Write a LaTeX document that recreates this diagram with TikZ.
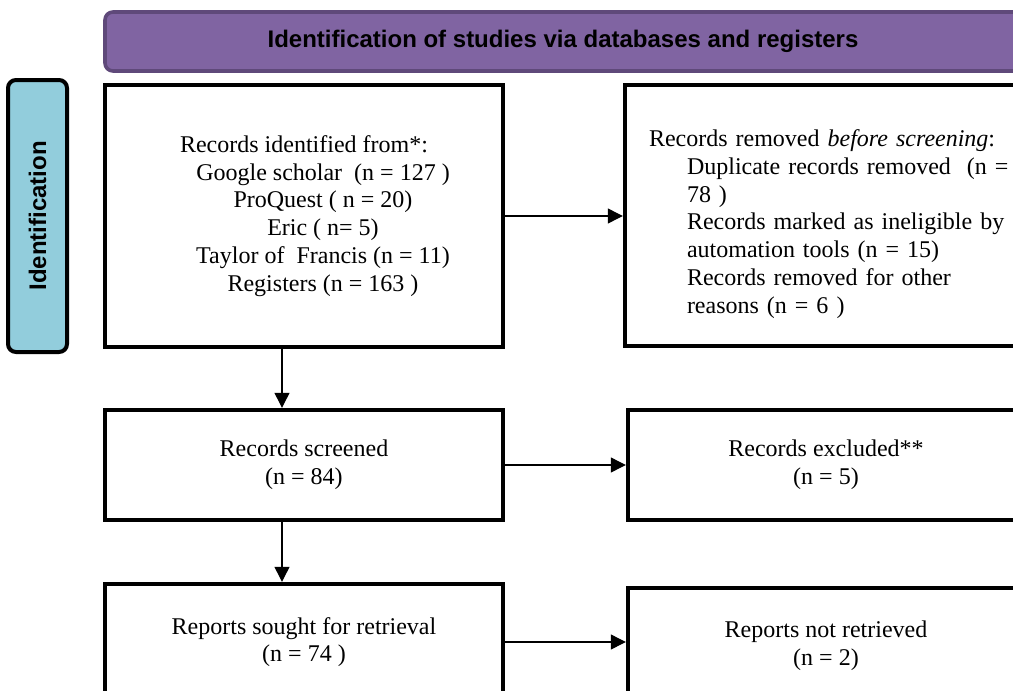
\documentclass[tikz,border=0pt]{standalone}
\usepackage{fontspec}
\setmainfont{Liberation Serif}
\newfontfamily\headfont{Liberation Sans}
\usetikzlibrary{arrows.meta}
\definecolor{headpurple}{HTML}{8064A2}
\definecolor{headedge}{HTML}{5F497A}
\definecolor{sideblue}{HTML}{92CDDC}
\begin{document}
\begin{tikzpicture}[x=0.5pt,y=-0.5pt,
    box/.style={draw,line width=2.2pt,align=center,font=\fontsize{12}{13.9}\selectfont},
    band/.style={line width=1.8pt,rounded corners=4pt,font=\headfont\bfseries\fontsize{12}{14}\selectfont},
    link/.style={line width=0.6pt,-{Triangle[length=7.5pt,width=7.5pt]}}]
    \useasboundingbox (0,0) rectangle (1013,691);
    \node[band,draw=headedge,fill=headpurple,minimum width=458pt,minimum height=29.5pt] (head) at (563,41.5) {Identification of studies via databases and registers};
    \node[band,draw=black,line width=2pt,fill=sideblue,rotate=90,minimum width=136pt,minimum height=29.5pt] (side) at (37.5,216) {Identification};
    \node[box,minimum width=199pt,minimum height=131pt] (ident) at (304,216) {Records identified from*:\\
        \hspace*{19pt}Google scholar\ \ (n = 127 )\\
        \hspace*{19pt}ProQuest ( n = 20)\\
        \hspace*{19pt}Eric ( n= 5)\\
        \hspace*{19pt}Taylor of\ \ Francis (n = 11)\\
        \hspace*{19pt}Registers (n = 163 )};
    \node[box,align=left,minimum height=130.5pt,text width=190pt,inner xsep=12pt] (removed) at (839,215.5) {\rule{0pt}{17pt}Records removed \textit{before screening}:\\
        \hspace*{19pt}Duplicate records removed\ \ (n =\\
        \hspace*{19pt}78 )\\
        \hspace*{19pt}Records marked as ineligible by\\
        \hspace*{19pt}automation tools (n = 15)\\
        \hspace*{19pt}Records removed for other\\
        \hspace*{19pt}reasons (n = 6 )};
    \node[box,minimum width=199pt,minimum height=55pt] (screened) at (304,465) {Records screened\\(n = 84)};
    \node[box,minimum width=198pt,minimum height=55pt] (excluded) at (826,465) {Records excluded**\\(n = 5)};
    \node[box,minimum width=199pt,minimum height=58pt] (sought) at (304,642) {Reports sought for retrieval\\(n = 74 )};
    \node[box,minimum width=198pt,minimum height=58pt] (notret) at (826,646) {Reports not retrieved\\(n = 2)};
    \draw[link] (ident) -- (ident -| removed.west);
    \draw[link] ([xshift=-11pt]ident.south) -- ([xshift=-11pt]screened.north);
    \draw[link] (screened) -- (excluded);
    \draw[link] ([xshift=-11pt]screened.south) -- ([xshift=-11pt]sought.north);
    \draw[link] (sought.east) -- (sought.east -| notret.west);
\end{tikzpicture}
\end{document}
